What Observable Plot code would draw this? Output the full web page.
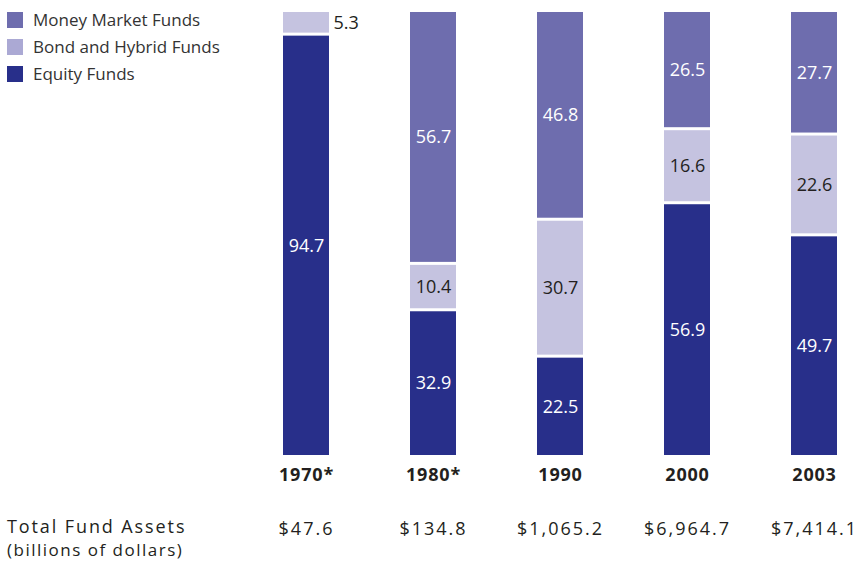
<!DOCTYPE html>
<html><head><meta charset="utf-8">
<script src="https://cdn.jsdelivr.net/npm/d3@7"></script>
<script src="https://cdn.jsdelivr.net/npm/@observablehq/plot@0.6"></script>
<style>
body{margin:0;background:#fff;font-family:"Open Sans",sans-serif;color:#231f20}
#wrap{position:relative;width:859px;height:561px}
#legend{position:absolute;left:7px;top:6px;font-size:17px;line-height:27px;color:#333}
#legend div{display:flex;align-items:center;height:27px}
#legend span.sw{display:inline-block;width:16px;height:16px;margin-right:10px}
#foot{position:absolute;left:7px;top:515px;font-size:18px;line-height:23px;letter-spacing:1.9px}
#foot .sub{font-size:17px;letter-spacing:1.5px}
.totals text{letter-spacing:2px}
.xax text{letter-spacing:0.8px}
</style></head>
<body><div id="wrap"><div id="chart"></div>
<div id="legend"></div>
<div id="foot"><div>Total Fund Assets</div><div class="sub">(billions of dollars)</div></div>
</div>
<script>
const years = ["1970","1980","1990","2000","2003"];
const yearLabels = ["1970*","1980*","1990","2000","2003"];
const equity = [94.7, 32.9, 22.5, 56.9, 49.7];
const bond = [5.3, 10.4, 30.7, 16.6, 22.6];
const money = [0, 56.7, 46.8, 26.5, 27.7];
const totals = ["$47.6","$134.8","$1,065.2","$6,964.7","$7,414.1"];
const seriesNames = ["Equity Funds","Bond and Hybrid Funds","Money Market Funds"];
const colors = ["#282f8a","#c5c3e0","#6e6dae"];
const legendColors = ["#282f8a","#aba9d4","#6e6dae"];
const textColors = ["#ffffff","#231f20","#ffffff"];

const rows = [];
years.forEach((yr, i) => {
  let base = 0;
  [equity, bond, money].forEach((arr, s) => {
    const v = arr[i];
    if (v > 0) rows.push({year: yr, series: seriesNames[s], value: v, y1: base, y2: base + v, s});
    base += v;
  });
});
const inside = rows.filter(r => !(r.year === "1970" && r.s === 1));
const outside = rows.filter(r => r.year === "1970" && r.s === 1);
const totalRows = years.map((y, i) => ({year: y, t: totals[i]}));

const chart = Plot.plot({
  width: 859, height: 561,
  marginLeft: 270, marginRight: 9, marginTop: 10.5, marginBottom: 104.5,
  style: {fontFamily: "Open Sans, sans-serif", color: "#231f20", background: "white"},
  x: {domain: years, paddingInner: 0.639, paddingOuter: 0.0975, label: null},
  y: {domain: [0, 100], axis: null},
  color: {domain: seriesNames, range: colors},
  marks: [
    Plot.barY(rows, {x: "year", y1: "y1", y2: "y2", fill: "series", insetTop: 1.5, insetBottom: 1.5}),
    Plot.text(inside, {x: "year", y: d => (d.y1 + d.y2) / 2, text: d => d.value.toFixed(1),
      fill: d => textColors[d.s], fontSize: 18}),
    Plot.text(outside, {x: "year", y: d => (d.y1 + d.y2) / 2, text: d => d.value.toFixed(1),
      fill: "#231f20", fontSize: 18, textAnchor: "start", dx: 27}),
    Plot.axisX({tickSize: 0, tickPadding: 11.5, fontSize: 18, fontWeight: "bold", label: null,
      className: "xax", tickFormat: d => yearLabels[years.indexOf(d)]}),
    Plot.text(totalRows, {x: "year", text: "t", frameAnchor: "bottom", lineAnchor: "middle", dy: 72.5,
      fontSize: 18, fill: "#231f20", className: "totals"})
  ]
});
document.getElementById("chart").appendChild(chart);

const lg = document.getElementById("legend");
[2,1,0].forEach(s => {
  const d = document.createElement("div");
  d.innerHTML = `<span class="sw" style="background:${legendColors[s]}"></span><span>${seriesNames[s]}</span>`;
  lg.appendChild(d);
});
</script></body></html>
